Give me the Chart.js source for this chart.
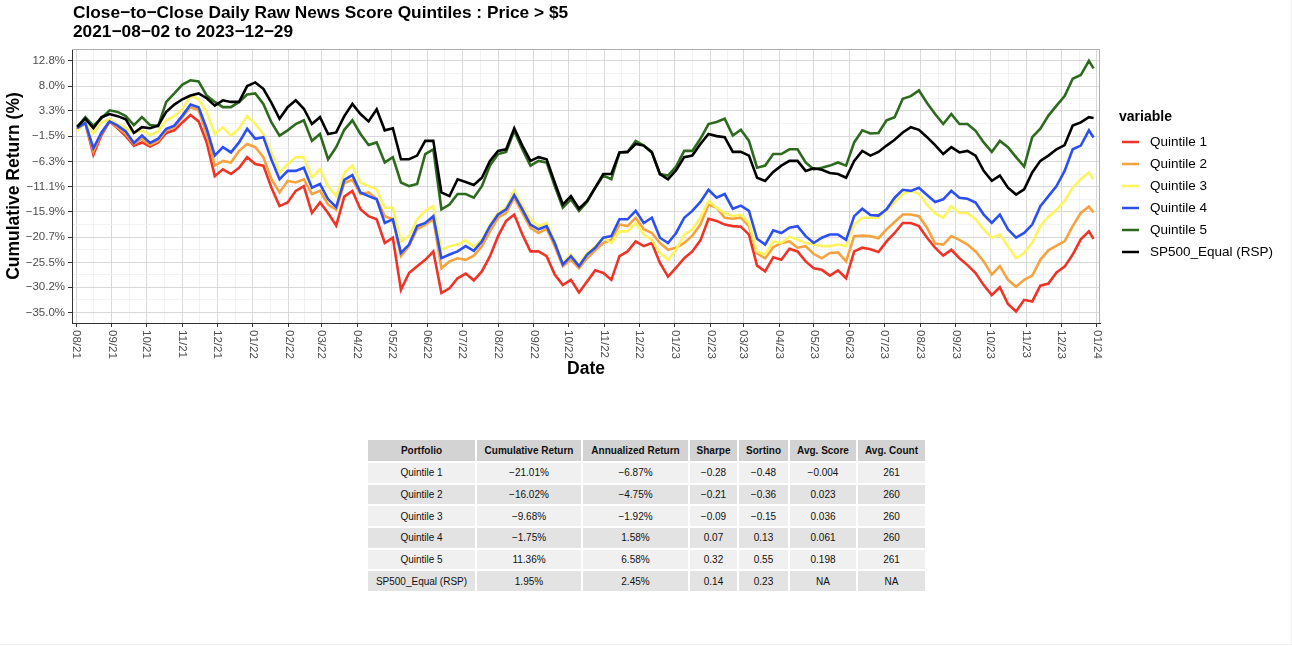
<!DOCTYPE html>
<html>
<head>
<meta charset="utf-8">
<script src="https://cdn.jsdelivr.net/npm/chart.js@4"></script>
<style>
    body { margin: 0; background: #fff; font-family: "Liberation Sans", Arial, Helvetica, sans-serif; }
    #wrap { position: relative; width: 1292px; height: 646px; overflow: hidden; }
    #frame { position: absolute; left: 0; top: 0; width: 1291px; height: 644px; border-right: 1px solid #efefef; border-bottom: 1px solid #efefef; }
    #chart { position: absolute; left: 0; top: 0; }
    #stats { position: absolute; left: 366px; top: 438px; border-collapse: separate; border-spacing: 2px; table-layout: fixed; font-size: 10px; color: #111; }
    #stats th, #stats td { padding: 0; text-align: center; height: 19.7px; white-space: nowrap; }
    #stats th { background: #d3d3d3; font-weight: bold; height: 21px; }
    #stats tbody tr:nth-child(odd) td { background: #f0f0f0; }
    #stats tbody tr:nth-child(even) td { background: #e3e3e3; }
</style>
</head>
<body>
<div id="wrap">
    <div id="frame"></div>
    <canvas id="chart" width="1292" height="390"></canvas>
    <table id="stats"><thead></thead><tbody></tbody></table>
</div>
<script>
// weekly samples (last one is the final day)
const dates = [
    '2021-08-02','2021-08-09','2021-08-16','2021-08-23','2021-08-30','2021-09-06','2021-09-13','2021-09-20','2021-09-27','2021-10-04',
    '2021-10-11','2021-10-18','2021-10-25','2021-11-01','2021-11-08','2021-11-15','2021-11-22','2021-11-29','2021-12-06','2021-12-13',
    '2021-12-20','2021-12-27','2022-01-03','2022-01-10','2022-01-17','2022-01-24','2022-01-31','2022-02-07','2022-02-14','2022-02-21',
    '2022-02-28','2022-03-07','2022-03-14','2022-03-21','2022-03-28','2022-04-04','2022-04-11','2022-04-18','2022-04-25','2022-05-02',
    '2022-05-09','2022-05-16','2022-05-23','2022-05-30','2022-06-06','2022-06-13','2022-06-20','2022-06-27','2022-07-04','2022-07-11',
    '2022-07-18','2022-07-25','2022-08-01','2022-08-08','2022-08-15','2022-08-22','2022-08-29','2022-09-05','2022-09-12','2022-09-19',
    '2022-09-26','2022-10-03','2022-10-10','2022-10-17','2022-10-24','2022-10-31','2022-11-07','2022-11-14','2022-11-21','2022-11-28',
    '2022-12-05','2022-12-12','2022-12-19','2022-12-26','2023-01-02','2023-01-09','2023-01-16','2023-01-23','2023-01-30','2023-02-06',
    '2023-02-13','2023-02-20','2023-02-27','2023-03-06','2023-03-13','2023-03-20','2023-03-27','2023-04-03','2023-04-10','2023-04-17',
    '2023-04-24','2023-05-01','2023-05-08','2023-05-15','2023-05-22','2023-05-29','2023-06-05','2023-06-12','2023-06-19','2023-06-26',
    '2023-07-03','2023-07-10','2023-07-17','2023-07-24','2023-07-31','2023-08-07','2023-08-14','2023-08-21','2023-08-28','2023-09-04',
    '2023-09-11','2023-09-18','2023-09-25','2023-10-02','2023-10-09','2023-10-16','2023-10-23','2023-10-30','2023-11-06','2023-11-13',
    '2023-11-20','2023-11-27','2023-12-04','2023-12-11','2023-12-18','2023-12-25','2023-12-29'
];

const quintile1 = [
    -0.3, 1.0, -5.0, -1.3, 1.3, 0.0, -1.5, -3.3, -2.7, -3.5,
    -2.7, -0.9, -0.4, 1.1, 2.5, 1.3, -2.7, -9.1, -7.8, -8.7,
    -7.5, -5.5, -6.8, -7.1, -11.3, -14.8, -14.1, -11.9, -11.0, -16.1,
    -14.1, -16.1, -18.5, -13.0, -11.9, -15.4, -16.7, -17.3, -21.8, -20.8,
    -30.7, -27.5, -26.2, -25.0, -23.4, -31.3, -30.4, -28.5, -27.6, -28.9,
    -27.2, -24.3, -20.5, -17.6, -16.4, -20.2, -23.4, -23.4, -24.3, -27.8,
    -29.8, -28.8, -31.2, -29.1, -27.0, -27.5, -28.8, -24.3, -23.4, -21.5,
    -22.4, -21.8, -25.6, -28.2, -26.5, -24.7, -23.4, -21.3, -17.2, -17.6,
    -18.3, -18.6, -18.7, -20.2, -26.1, -27.2, -24.5, -25.0, -22.9, -23.4,
    -25.3, -26.6, -26.9, -28.0, -27.0, -28.5, -23.4, -22.7, -23.0, -23.5,
    -21.5, -19.9, -18.0, -18.0, -18.6, -20.8, -22.7, -24.2, -23.1, -24.7,
    -26.0, -27.5, -29.8, -31.7, -30.2, -33.4, -34.8, -32.6, -32.9, -29.9,
    -29.5, -27.4, -26.3, -24.0, -21.1, -19.6, -21.01
];
const quintile2 = [
    -0.2, 1.0, -4.4, -0.9, 1.3, 0.2, -1.1, -3.0, -2.0, -3.2,
    -2.4, -0.4, 0.2, 2.1, 4.0, 3.4, -1.1, -7.1, -6.2, -6.5,
    -4.3, -3.0, -3.6, -5.5, -9.7, -12.2, -10.0, -10.3, -9.7, -12.5,
    -11.9, -14.5, -15.5, -10.4, -9.8, -12.5, -12.2, -13.4, -16.7, -17.3,
    -24.3, -22.4, -19.2, -18.3, -17.3, -26.6, -25.3, -24.7, -25.0, -24.2,
    -22.4, -19.6, -17.0, -16.1, -13.2, -16.1, -18.9, -19.9, -19.1, -22.4,
    -26.2, -25.0, -26.6, -24.7, -23.2, -21.8, -21.2, -18.3, -18.6, -17.0,
    -19.2, -19.9, -21.8, -23.1, -22.7, -21.8, -20.4, -18.3, -14.5, -15.1,
    -17.0, -17.2, -17.0, -18.6, -23.8, -24.7, -22.6, -21.8, -21.5, -22.7,
    -22.4, -23.9, -24.7, -23.7, -23.6, -25.3, -20.5, -20.4, -20.5, -20.9,
    -19.2, -17.8, -16.4, -16.4, -16.7, -18.9, -21.9, -22.1, -20.5, -21.2,
    -22.1, -23.4, -25.3, -27.8, -26.2, -28.8, -30.1, -28.8, -28.0, -25.0,
    -23.2, -22.3, -21.5, -18.6, -16.1, -14.9, -16.02
];
const quintile3 = [
    -0.5, 1.1, -1.0, 1.1, 1.7, 0.8, 0.0, -0.9, -0.4, -1.3,
    -0.6, 1.5, 2.3, 3.7, 6.2, 5.5, 3.1, -1.1, 0.2, -1.4,
    -0.1, 2.3, 0.8, -1.1, -4.6, -8.4, -6.8, -5.5, -5.5, -9.4,
    -7.8, -11.0, -12.9, -8.5, -7.1, -10.3, -11.0, -11.6, -15.1, -15.1,
    -21.5, -20.5, -17.3, -15.7, -14.8, -23.1, -22.4, -22.1, -21.3, -22.5,
    -21.2, -18.3, -16.1, -15.1, -11.9, -14.8, -17.3, -18.6, -18.0, -21.5,
    -25.6, -24.0, -25.9, -23.7, -22.4, -20.8, -21.8, -19.6, -19.6, -18.0,
    -20.2, -21.2, -23.7, -25.0, -23.1, -20.2, -19.2, -17.0, -13.8, -15.1,
    -16.1, -16.7, -16.4, -18.0, -23.4, -24.0, -21.5, -21.8, -20.6, -21.2,
    -21.8, -22.1, -22.4, -22.4, -22.1, -22.4, -18.3, -17.0, -17.0, -17.0,
    -15.7, -14.1, -12.5, -11.9, -12.5, -14.5, -16.2, -17.0, -14.8, -16.1,
    -16.1, -17.3, -19.2, -20.8, -20.2, -22.4, -24.7, -23.7, -21.7, -18.6,
    -16.8, -15.5, -13.8, -11.3, -9.7, -8.4, -9.68
];
const quintile4 = [
    0.0, 1.0, -3.8, -0.8, 1.3, 0.5, -0.6, -2.8, -1.4, -2.8,
    -2.0, -0.1, 0.5, 2.4, 4.5, 4.0, -0.1, -5.2, -3.6, -4.6,
    -2.7, -0.1, -2.0, -1.7, -6.0, -9.7, -8.1, -8.1, -7.5, -11.3,
    -10.6, -13.5, -15.0, -9.8, -8.9, -12.2, -12.9, -13.5, -18.0, -17.3,
    -23.7, -22.1, -18.6, -18.0, -16.7, -24.7, -24.0, -23.4, -22.4, -23.3,
    -21.5, -18.6, -16.4, -15.4, -12.7, -15.4, -18.3, -19.2, -18.6, -21.8,
    -25.9, -24.3, -26.2, -24.0, -22.7, -20.8, -20.5, -17.3, -17.3, -15.7,
    -18.0, -17.0, -20.8, -21.8, -19.9, -17.0, -15.7, -14.0, -11.7, -13.2,
    -12.5, -15.3, -14.7, -15.7, -21.0, -22.1, -19.4, -19.9, -18.9, -18.6,
    -20.5, -21.8, -20.8, -20.2, -20.2, -21.2, -16.7, -15.3, -16.5, -16.6,
    -15.4, -13.2, -11.7, -11.9, -11.3, -12.7, -14.0, -13.5, -11.9, -13.2,
    -13.4, -14.1, -16.4, -18.0, -16.4, -19.2, -20.8, -19.9, -18.3, -14.8,
    -12.9, -11.0, -8.1, -4.0, -3.3, -0.4, -1.75
];
const quintile5 = [
    0.2, 2.1, 0.5, 1.9, 3.4, 3.1, 2.3, 0.6, 2.1, 0.6,
    0.4, 5.0, 6.6, 8.3, 9.1, 8.9, 6.2, 5.0, 4.0, 4.0,
    5.0, 6.4, 6.6, 4.6, 1.1, -1.4, -0.4, 0.8, 1.5, -2.4,
    -1.1, -5.9, -3.6, -0.3, 1.5, -1.1, -3.2, -2.7, -6.5, -5.5,
    -10.3, -11.0, -10.6, -4.9, -4.0, -15.4, -14.5, -12.5, -12.5, -13.2,
    -11.0, -7.1, -4.9, -4.5, -0.5, -4.0, -7.1, -6.2, -6.5, -11.0,
    -15.1, -13.5, -15.7, -14.0, -11.3, -9.0, -9.7, -4.6, -4.5, -2.4,
    -3.3, -4.5, -8.7, -9.0, -7.3, -4.3, -4.3, -2.0, 0.8, 1.2,
    1.8, -1.4, -0.3, -2.4, -7.5, -7.1, -4.9, -4.9, -4.0, -4.0,
    -6.5, -7.8, -7.5, -7.1, -6.5, -7.1, -2.7, -0.4, -1.0, -0.9,
    1.5, 2.1, 5.6, 6.1, 7.2, 4.8, 2.7, 0.8, 2.7, 0.8,
    0.8, -0.5, -2.7, -4.5, -2.4, -3.6, -5.5, -7.3, -1.7, -0.1,
    2.4, 4.3, 6.1, 9.4, 10.1, 12.8, 11.36
];
const sp500Equal = [
    0.3, 1.8, 0.0, 2.1, 2.7, 2.3, 1.7, -0.9, 0.2, 0.0,
    0.5, 3.1, 4.5, 5.5, 6.2, 6.6, 5.7, 4.3, 5.3, 5.0,
    5.0, 8.0, 8.7, 7.5, 4.8, 1.8, 4.0, 5.3, 3.7, 0.8,
    2.1, -1.1, -0.8, 2.3, 4.6, 2.7, 1.3, 3.6, -0.4, 0.0,
    -5.9, -5.9, -5.2, -2.4, -2.4, -12.2, -12.9, -9.7, -10.2, -10.8,
    -9.4, -6.2, -4.3, -4.0, 0.0, -3.3, -6.2, -5.5, -5.9, -10.3,
    -14.5, -12.9, -15.3, -13.8, -11.3, -8.7, -8.7, -4.6, -4.5, -3.0,
    -3.3, -4.6, -8.7, -9.7, -8.0, -5.5, -5.2, -3.0, -1.1, -1.5,
    -1.7, -4.5, -4.5, -5.2, -9.4, -10.0, -8.3, -7.1, -6.2, -6.2,
    -8.1, -7.6, -7.9, -8.5, -8.7, -9.4, -6.2, -4.3, -5.2, -4.5,
    -3.3, -2.2, -0.8, 0.2, -0.3, -1.7, -3.2, -4.9, -3.6, -4.6,
    -4.3, -5.2, -8.1, -10.0, -9.0, -11.3, -12.6, -11.6, -8.4, -6.2,
    -5.2, -4.0, -3.2, 0.5, 1.1, 2.1, 1.95
];

const seriesNames = ['Quintile 1', 'Quintile 2', 'Quintile 3', 'Quintile 4', 'Quintile 5', 'SP500_Equal (RSP)'];
const seriesColours = ['#ee3327', '#f6a33f', '#fdf460', '#2c4ff2', '#2e6a1e', '#000000'];

const xTickLabels = ['08/21','09/21','10/21','11/21','12/21','01/22','02/22','03/22','04/22','05/22','06/22','07/22',
    '08/22','09/22','10/22','11/22','12/22','01/23','02/23','03/23','04/23','05/23','06/23','07/23','08/23','09/23',
    '10/23','11/23','12/23','01/24'];
const yTicks = [-35.0, -30.2, -25.5, -20.7, -15.9, -11.1, -6.3, -1.5, 3.3, 8.0, 12.8];

// summary table
const tableHeader = ['Portfolio', 'Cumulative Return', 'Annualized Return', 'Sharpe', 'Sortino', 'Avg. Score', 'Avg. Count'];
const cumulativeReturn = ['\u221221.01%', '\u221216.02%', '\u22129.68%', '\u22121.75%', '11.36%', '1.95%'];
const annualizedReturn = ['\u22126.87%', '\u22124.75%', '\u22121.92%', '1.58%', '6.58%', '2.45%'];
const sharpe = ['\u22120.28', '\u22120.21', '\u22120.09', '0.07', '0.32', '0.14'];
const sortino = ['\u22120.48', '\u22120.36', '\u22120.15', '0.13', '0.55', '0.23'];
const avgScore = ['\u22120.004', '0.023', '0.036', '0.061', '0.198', 'NA'];
const avgCount = ['261', '260', '260', '260', '261', 'NA'];
const colWidths = [107, 104, 105, 47, 49, 66, 67];

const FONT = '"Liberation Sans", Arial, Helvetica, sans-serif';
const dayNum = s => Date.parse(s) / 864e5;
const monthDay = lbl => Date.UTC(2000 + Number(lbl.slice(3)), Number(lbl.slice(0, 2)) - 1, 1) / 864e5;
const fmtPct = v => (v < 0 ? '\u2212' : '') + Math.abs(v).toFixed(1) + '%';

function buildTable() {
    const head = document.querySelector('#stats thead');
    head.innerHTML = '<tr>' + tableHeader.map((h, i) => `<th style="width:${colWidths[i]}px">${h}</th>`).join('') + '</tr>';
    const body = document.querySelector('#stats tbody');
    body.innerHTML = seriesNames.map((name, i) => `
        <tr><td>${name}</td><td>${cumulativeReturn[i]}</td><td>${annualizedReturn[i]}</td>
        <td>${sharpe[i]}</td><td>${sortino[i]}</td><td>${avgScore[i]}</td><td>${avgCount[i]}</td></tr>`).join('');
}

const chromePlugin = {
    id: 'chrome',
    afterDraw(chart) {
        const {ctx, chartArea: a, scales: {x}} = chart;
        ctx.save();
        // grey panel border top and right
        ctx.strokeStyle = '#b0b0b0';
        ctx.lineWidth = 1;
        ctx.beginPath();
        ctx.moveTo(a.left, a.top + 0.5);
        ctx.lineTo(a.right - 0.5, a.top + 0.5);
        ctx.lineTo(a.right - 0.5, a.bottom);
        ctx.stroke();

        // x tick labels, turned clockwise
        ctx.fillStyle = '#4d4d4d';
        ctx.font = `11.5px ${FONT}`;
        ctx.textAlign = 'left';
        ctx.textBaseline = 'middle';
        xTickLabels.forEach(lbl => {
            ctx.save();
            ctx.translate(x.getPixelForValue(monthDay(lbl)), a.bottom + 7);
            ctx.rotate(Math.PI / 2);
            ctx.fillText(lbl, 0, 0);
            ctx.restore();
        });

        // axis titles
        ctx.fillStyle = '#000';
        ctx.font = `bold 17.5px ${FONT}`;
        ctx.textAlign = 'center';
        ctx.fillText('Date', (a.left + a.right) / 2, 369);
        ctx.save();
        ctx.translate(14, (a.top + a.bottom) / 2);
        ctx.rotate(-Math.PI / 2);
        ctx.fillText('Cumulative Return (%)', 0, 0);
        ctx.restore();

        // plot title
        ctx.textAlign = 'left';
        ctx.textBaseline = 'alphabetic';
        ctx.font = `bold 17.3px ${FONT}`;
        ctx.fillText('Close\u2212to\u2212Close Daily Raw News Score Quintiles : Price > $5', a.left + 1, 18);
        ctx.fillText('2021\u221208\u221202 to 2023\u221212\u221229', a.left + 1, 37);

        // legend
        ctx.font = `bold 14px ${FONT}`;
        ctx.textBaseline = 'middle';
        ctx.fillText('variable', 1119, 117);
        ctx.font = `13.5px ${FONT}`;
        chart.data.datasets.forEach((ds, i) => {
            const cy = 142 + i * 22;
            ctx.strokeStyle = ds.borderColor;
            ctx.lineWidth = 2.5;
            ctx.beginPath();
            ctx.moveTo(1122, cy);
            ctx.lineTo(1139, cy);
            ctx.stroke();
            ctx.fillStyle = '#000';
            ctx.fillText(ds.label, 1150, cy);
        });
        ctx.restore();
    }
};

function buildChart() {
    const ctx = document.getElementById('chart').getContext('2d');
    const series = [quintile1, quintile2, quintile3, quintile4, quintile5, sp500Equal];
    const datasets = series.map((values, i) => ({
        label: seriesNames[i],
        data: dates.map((d, j) => ({x: dayNum(d), y: values[j]})),
        borderColor: seriesColours[i],
        backgroundColor: seriesColours[i],
        borderWidth: 2.6,
        pointRadius: 0,
        tension: 0,
        order: series.length - 1 - i
    }));

    const xMajor = xTickLabels.map(monthDay);
    const xMinor = xMajor.slice(1).map((v, i) => (v + xMajor[i]) / 2);
    const yMinor = yTicks.slice(1).map((v, i) => (v + yTicks[i]) / 2);
    const mkTicks = (major, minor) => major.map(v => ({value: v, minor: false}))
        .concat(minor.map(v => ({value: v, minor: true})))
        .sort((p, q) => p.value - q.value);
    const gridColour = c => c.tick && c.tick.minor ? '#efefef' : '#d9d9d9';
    const tickColour = c => c.tick && c.tick.minor ? 'rgba(0,0,0,0)' : '#333';

    new Chart(ctx, {
        type: 'line',
        data: {datasets: datasets},
        options: {
            responsive: false,
            animation: false,
            events: [],
            layout: {padding: {top: 49, right: 192, left: 0, bottom: 0}},
            plugins: {legend: {display: false}, tooltip: {enabled: false}},
            scales: {
                x: {
                    type: 'linear',
                    min: dayNum('2021-08-01') - 3.5,
                    max: dayNum('2024-01-01') + 2.6,
                    afterBuildTicks: s => { s.ticks = mkTicks(xMajor, xMinor); },
                    afterFit: s => { s.height = 67; },
                    ticks: {display: false, autoSkip: false},
                    grid: {color: gridColour, tickColor: tickColour, tickLength: 4, lineWidth: c => c.tick && c.tick.minor ? 0.8 : 1},
                    border: {color: '#333', width: 1}
                },
                y: {
                    min: -37.0,
                    max: 15.05,
                    afterBuildTicks: s => { s.ticks = mkTicks(yTicks, yMinor); },
                    afterFit: s => { s.width = 72; },
                    ticks: {
                        autoSkip: false,
                        padding: 3,
                        color: '#4d4d4d',
                        font: {family: FONT, size: 11.5},
                        callback: (v, i, ticks) => ticks[i].minor ? '' : fmtPct(v)
                    },
                    grid: {color: gridColour, tickColor: tickColour, tickLength: 4, lineWidth: c => c.tick && c.tick.minor ? 0.8 : 1},
                    border: {color: '#333', width: 1}
                }
            }
        },
        plugins: [chromePlugin]
    });
}

buildTable();
buildChart();
</script>
</body>
</html>
